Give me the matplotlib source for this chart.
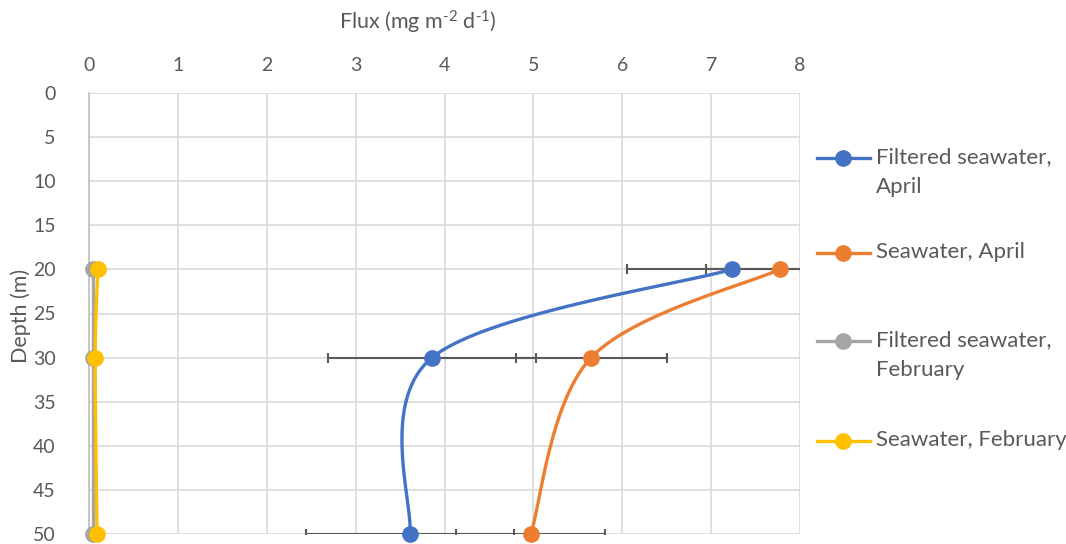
import numpy as np
import matplotlib
matplotlib.use("Agg")
import matplotlib.pyplot as plt
from matplotlib.lines import Line2D

plt.rcParams['font.family'] = ['Lato', 'DejaVu Sans']
plt.rcParams['mathtext.fontset'] = 'custom'
plt.rcParams['mathtext.rm'] = 'Lato'
plt.rcParams['mathtext.it'] = 'Lato:italic'

# data
depth = [20, 30, 50]
filt_april = [7.23, 3.86, 3.61]
filt_april_err = [1.18, 1.17, 1.17]
sea_april = [7.77, 5.65, 4.97]
sea_april_err = [0.83, 0.85, 0.84]
filt_feb = [0.05, 0.05, 0.05]
sea_feb = [0.10, 0.07, 0.09]

labels = ["Filtered seawater,\nApril", "Seawater, April",
          "Filtered seawater,\nFebruary", "Seawater, February"]
colors = ["#4472c4", "#ed7d31", "#a5a5a5", "#ffc000"]
txt = "#595959"
grid = "#d9d9d9"

fig = plt.figure(figsize=(10.66, 5.44), dpi=100)
ax = fig.add_axes([89/1066, 1 - 534/544, (800-89)/1066, (534-93)/544])

# pixel scale per data unit, used to make the smoothing look like Excel's
sx = ax.get_position().width * 1066 / 8
sy = ax.get_position().height * 544 / 50


def smooth(xs, ys, n=40):
    p = np.column_stack([np.array(xs) * sx, np.array(ys) * sy])
    pts = np.vstack([p[0], p, p[-1]])
    out = []
    t = np.linspace(0, 1, n)[:, None]
    for i in range(1, len(pts) - 2):
        p0, p1, p2, p3 = pts[i-1], pts[i], pts[i+1], pts[i+2]
        c1 = p1 + (p2 - p0) / 6
        c2 = p2 - (p3 - p1) / 6
        seg = ((1-t)**3) * p1 + 3*((1-t)**2)*t*c1 + 3*(1-t)*t**2*c2 + t**3*p2
        out.append(seg)
    c = np.vstack(out)
    return c[:, 0] / sx, c[:, 1] / sy


series = [(filt_april, filt_april_err), (sea_april, sea_april_err),
          (filt_feb, None), (sea_feb, None)]

for (vals, err), col in zip(series, colors):
    if err is not None:
        ax.errorbar(vals, depth, xerr=err, fmt='none', ecolor='#595959',
                    elinewidth=1.5, capsize=3.5, capthick=1.5, zorder=2)

for (vals, err), col in zip(series, colors):
    cx, cy = smooth(vals, depth)
    ax.plot(cx, cy, color=col, lw=2.4, zorder=3, clip_on=False,
            solid_capstyle='round')
    ax.plot(vals, depth, 'o', color=col, ms=11, zorder=4, clip_on=False)

ax.set_xlim(0, 8)
ax.set_ylim(50, 0)
ax.set_xticks(range(0, 9))
ax.set_yticks(range(0, 51, 5))
ax.xaxis.tick_top()
ax.grid(True, color=grid, lw=1.2)
ax.set_axisbelow(True)
for s in ['top', 'right', 'bottom']:
    ax.spines[s].set_visible(False)
ax.spines['left'].set_color('#bfbfbf')
ax.spines['left'].set_linewidth(1.2)
ax.tick_params(length=0, labelsize=14, colors=txt, pad=14)
ax.tick_params(axis='y', pad=24)
fig.text(21/1066, 1 - 316/544, "Depth (m)", fontsize=15.5, color=txt,
         rotation=90, ha='center', va='center')
fig.text(418/1066, 1 - 22/544, "Flux (mg m$^{\u20102}$ d$^{\u20101}$)",
         fontsize=15.5, color=txt, ha='center', va='center')

# legend drawn by hand so the marker sits on the first text line
leg_y = [158, 253, 341, 441]
for lab, col, yy in zip(labels, colors, leg_y):
    yf = 1 - yy / 544
    fig.add_artist(Line2D([817/1066, 870/1066], [yf, yf], color=col, lw=2.4,
                          transform=fig.transFigure))
    fig.add_artist(Line2D([843/1066], [yf], marker='o', color=col, ms=11,
                          transform=fig.transFigure))
    fig.text(876/1066, yf + 11/544, lab, fontsize=16, color=txt, ha='left',
             va='top', linespacing=1.6)

fig.savefig("out.png", dpi=100)
